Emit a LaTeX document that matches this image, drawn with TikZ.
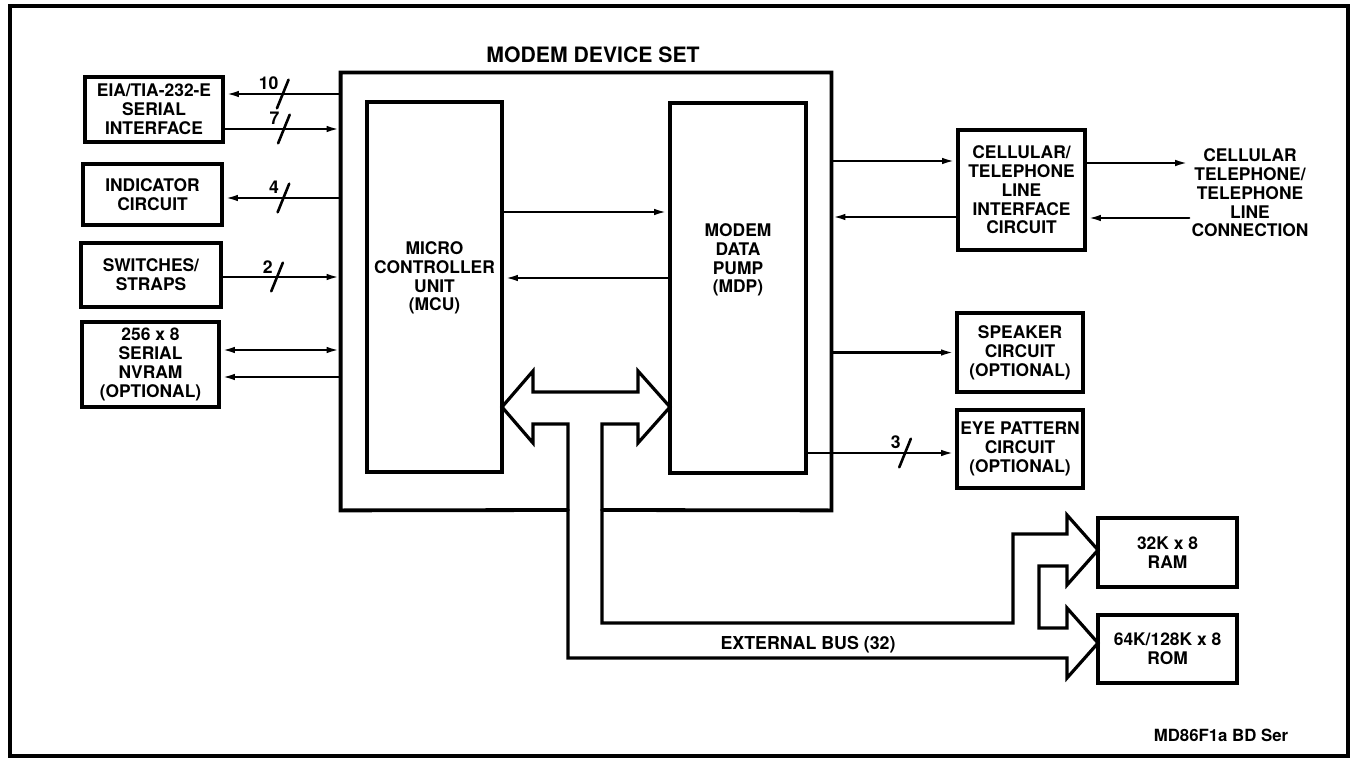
\documentclass[tikz,border=0pt]{standalone}
\usepackage{fontspec}
\setmainfont{TeX Gyre Heros}
\usetikzlibrary{arrows.meta,positioning,calc}
\tikzset{block/.style={rectangle,draw,line width=1.9pt,align=center,inner sep=1pt,font=\bfseries\fontsize{8.7}{9.4}\selectfont},lbl/.style={align=center,inner sep=0pt,font=\bfseries\fontsize{8.7}{9.4}\selectfont},sig/.style={-{Latex[length=7pt,width=3.2pt]},line width=1.3pt},both/.style={{Latex[length=7pt,width=3.2pt]}-{Latex[length=7pt,width=3.2pt]},line width=1.3pt},bus/.style={line width=1.6pt,line join=miter},tickbox/.style={inner sep=0pt,minimum width=4.5pt,minimum height=13pt},count/.style={inner sep=0pt,font=\bfseries\fontsize{8.8}{8.8}\selectfont},every picture/.style={line cap=round}}
\begin{document}
\begin{tikzpicture}[x=0.5pt,y=-0.5pt]
\useasboundingbox (0,0) rectangle (1354,765);
\draw[line width=1.8pt] (10,6) rectangle (1348,756);
% left side blocks
\node[block,minimum width=69pt,minimum height=32.5pt] (eia) at (154,109.5) {EIA/TIA-232-E\\SERIAL\\INTERFACE};
\node[block,minimum width=69.5pt,minimum height=30.5pt] (ind) at (152.5,194.5) {INDICATOR\\CIRCUIT};
\node[block,minimum width=70pt,minimum height=32pt] (sw) at (151,275) {SWITCHES/\\STRAPS};
\node[block,minimum width=68.5pt,minimum height=42.5pt] (nv) at (150.5,364.5) {256 x 8\\SERIAL\\NVRAM\\(OPTIONAL)};
% modem device set
\node[minimum width=245pt,minimum height=218.5pt,inner sep=0pt] (dev) at (586,291.5) {};
\draw[line width=1.9pt] (568,510) -- (dev.south west) -- (dev.north west) -- (dev.north east) -- (dev.south east) -- (602,510);
\node[inner sep=0pt,font=\bfseries\fontsize{10.6}{10.6}\selectfont,above=4.5pt of dev.north,xshift=3.5pt] (title) {MODEM DEVICE SET};
\node[block,minimum width=67.5pt,minimum height=185pt,label={[lbl,yshift=4.5pt]center:MICRO\\CONTROLLER\\UNIT\\(MCU)}] (mcu) at (434.5,287) {};
\node[block,minimum width=68pt,minimum height=185pt,label={[lbl,yshift=14pt]center:MODEM\\DATA\\PUMP\\(MDP)}] (mdp) at (738,288) {};
% right side blocks
\node[block,minimum width=63.5pt,minimum height=60pt] (cell) at (1021.5,190) {CELLULAR/\\TELEPHONE\\LINE\\INTERFACE\\CIRCUIT};
\node[lbl,inner sep=1pt] (line) at (1250,193) {CELLULAR\\TELEPHONE/\\TELEPHONE\\LINE\\CONNECTION};
\node[block,minimum width=63pt,minimum height=39.5pt] (spk) at (1020,352.5) {SPEAKER\\CIRCUIT\\(OPTIONAL)};
\node[block,minimum width=63pt,minimum height=39pt] (eye) at (1020,449) {EYE PATTERN\\CIRCUIT\\(OPTIONAL)};
\node[block,minimum width=69.5pt,minimum height=34.5pt] (ram) at (1167.5,552.5) {32K x 8\\RAM};
\node[block,minimum width=69.5pt,minimum height=34pt] (rom) at (1167.5,649) {64K/128K x 8\\ROM};
% signals
\draw[sig] ([yshift=7.75pt]eia.east -| dev.west) -- node[tickbox,pos=.5] (t10) {} ([yshift=7.75pt]eia.east);
\draw[sig] ([yshift=-9.75pt]eia.east) -- node[tickbox,pos=.51] (t7) {} ([yshift=-9.75pt]eia.east -| dev.west);
\draw[sig] ([yshift=-1.75pt]ind.east -| dev.west) -- node[tickbox,pos=.49] (t4) {} ([yshift=-1.75pt]ind.east);
\draw[sig] ([yshift=-1pt]sw.east) -- node[tickbox,pos=.46] (t2) {} ([yshift=-1pt]sw.east -| dev.west);
\draw[both] ([yshift=7.25pt]nv.east) -- ([yshift=7.25pt]nv.east -| dev.west);
\draw[sig] ([yshift=-6.25pt]nv.east -| dev.west) -- ([yshift=-6.25pt]nv.east);
\draw[sig] ([yshift=37.5pt]mcu.east) -- ([yshift=37.5pt]mcu.east -| mdp.west);
\draw[sig] ([yshift=4.5pt]mcu.east -| mdp.west) -- ([yshift=4.5pt]mcu.east);
\draw[sig] ([yshift=14.5pt]cell.west -| dev.east) -- ([yshift=14.5pt]cell.west);
\draw[sig] ([yshift=-13.5pt]cell.west) -- ([yshift=-13.5pt]cell.west -| dev.east);
\draw[sig] ([yshift=13.5pt]cell.east) -- ([yshift=13.5pt]cell.east -| line.west);
\draw[sig] ([yshift=-14pt]cell.east -| line.west) -- ([yshift=-14pt]cell.east);
\draw[sig] (spk.west -| dev.east) -- (spk.west);
\draw[sig] ([yshift=-2pt]eye.west -| mdp.east) -- node[tickbox,pos=.66] (t3) {} ([yshift=-2pt]eye.west);
\foreach \t/\n in {t10/10,t7/7,t4/4,t2/2,t3/3}{
\draw[line width=1.3pt] (\t.south west) -- (\t.north east);
\node[count,anchor=east] at ([shift={(-2pt,-2pt)}]\t.north) {\n};
}
% external bus
\draw[bus] (602,424) -- (602,623) -- (1013,623) -- (1013,534) -- (1067,534) -- (1067,515) -- (1098,550) -- (1067,585) -- (1067,566) -- (1039,566) -- (1039,628) -- (1067,628) -- (1067,608) -- (1098,643) -- (1067,678) -- (1067,658) -- (568,658) -- (568,424) -- (533,424) -- (533,443) -- (502,407) -- (533,371) -- (533,392) -- (638,392) -- (638,371) -- (670,407) -- (638,443) -- (638,424) -- cycle;
\node[count,font=\bfseries\fontsize{8.9}{8.9}\selectfont] (extbus) at (808,645) {EXTERNAL BUS (32)};
\node[count,font=\bfseries\fontsize{8.4}{8.4}\selectfont] (figid) at (1221,735) {MD86F1a BD Ser};
\end{tikzpicture}
\end{document}
